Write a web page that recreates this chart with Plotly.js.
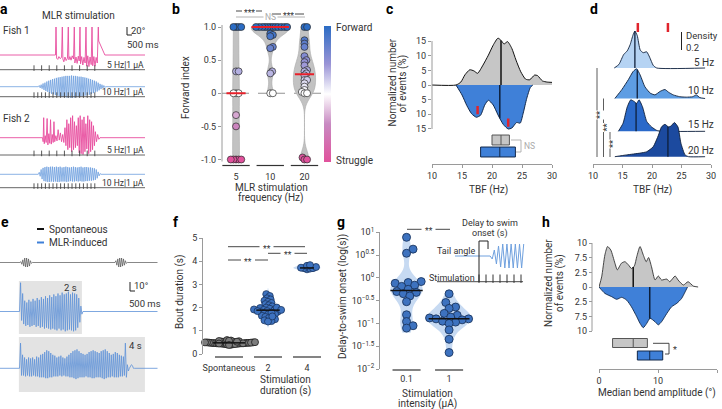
<!DOCTYPE html>
<html><head><meta charset="utf-8">
<script src="https://cdn.plot.ly/plotly-3.0.1.min.js"></script>
<style>html,body{margin:0;padding:0;background:#fff}#chart{width:722px;height:409px}</style>
</head><body><div id="chart"></div>
<script>
// ================= DATA =================
// Panel a: tail-angle traces (time in ms, angle in degrees)
const aPink1T = [0,1460,1474,1490,1520,1550,1580,1620,1640,1655,1680,1710,1740,1775,1797,1812,1840,1870,1900,1935,1955,1970,2000,2030,2060,2085,2105,2120,2150,2180,2210,2240,2263,2280,2310,2340,2370,2400,2421,2440,2470,2500,2530,2560,2587,2597,2760,3816];
const aPink1Y = [0,0,70,-8,-11,-4,-9,-6,70,-10,-17,-5,-14,-8,70,-12,-4,-13,-2,-10,70,-20,-5,-21,-3,-15,70,-22,-4,-25,-6,-20,70,-28,-2,-29,-5,-24,70,-27,-4,-28,-6,-20,70,35,0,0];
const aBlue1 = [3,-3,5,-5,8,-8,10,-11,13,-13,15,-16,17,-18,19,-19,20,-21,22,-22,23,-24,24,-25,25,-26,26,-26,27,-27,27,-27,27,-28,28,-27,27,-27,27,-26,26,-26,25,-25,25,-24,24,-23,23,-22,22,-21,20,-20,19,-18,17,-16,15,-14,13,-12,10,-9,7,-6,5,-4,3,-2];
const aPink2T = [0,1120,1135,1150,1165,1190,1215,1240,1260,1285,1310,1330,1350,1375,1400,1420,1440,1470,1500,1530,1560,1590,1620,1650,1680,1710,1735,1760,1785,1810,1835,1860,1885,1910,1935,1960,1985,2010,2035,2060,2085,2110,2135,2160,2185,2210,2235,2260,2285,2310,2335,2360,2385,2410,2435,2460,2485,2510,2540,2570,2600,2630,3816];
const aPink2Y = [0,0,-10,50,-15,5,-12,48,-18,10,-14,45,-16,8,-12,40,-10,5,-8,20,-6,12,-10,8,-12,25,-20,45,-30,35,-25,50,-35,55,-30,40,-25,30,-20,50,-38,55,-40,45,-42,52,-35,35,-28,55,-40,45,-35,40,-30,30,-20,15,-10,8,-4,0,0];
const aBlue2 = [5,-5,12,-12,16,-17,18,-18,19,-19,18,-19,19,-18,19,-19,18,-18,19,-19,18,-19,19,-18,17,-18,18,-18,19,-19,18,-18,17,-17,18,-18,19,-18,18,-17,17,-18,18,-17,19,-18,17,-18,18,-17,18,-17,17,-16,17,-16,16,-15,15,-14,12,-10,6,-4,2];
const aBlueStartMs = 1008, aBlueDtMs = 25, aEndMs = 3816;
const aStimStartMs = 895;
const aStimFreqHz = [5, 10, 5, 10];
const aStimPulses = [9, 17, 9, 17];
const aStimLabels = ['5 Hz|1 µA', '10 Hz|1 µA', '5 Hz|1 µA', '10 Hz|1 µA'];

// Panel b: forward index per stimulation frequency
const bCats = ['5', '10', '20'];
const b5 = [1,1,1,1,0.33,0.33,0,0,0,-0.33,-0.5,-1,-1,-1,-1,-1];
const b10 = [1,1,1,1,1,1,1,1,1,1,1,1,0.9,0.88,0.86,0.7,0.68,0.33,0.3,0,0];
const b20 = [1,1,0.8,0.75,0.7,0.56,0.5,0.47,0.42,0.35,0.33,0.3,0.27,0.2,0.2,0.15,0.1,0.05,0.02,0,0,-0.97,-1,-1];

// Panel c: TBF distributions (Hz, % events)
const cGrayX = [10,14,14.8,15.5,16.3,17.0,17.6,18.5,19.4,20.2,21.0,21.6,22.0,22.6,23.3,24.0,24.8,25.6,26.3,27.1,27.6,28.4,29.2,30];
const cGrayY = [0,0,1,3.5,5.2,4.8,4.0,6.8,10.2,13.6,16.0,15.0,14.0,14.8,12.5,8.5,4.5,2.0,1.8,3.4,3.2,1.4,1.0,0.9];
const cBlueX = [14,15,15.8,16.6,17.4,18.1,18.8,19.4,20.2,21.0,21.9,22.7,23.3,24.1,24.7,25.2,25.8,26.4,26.8];
const cBlueY = [0,-3.4,-7,-9.8,-11,-10.3,-6.8,-5.2,-6.8,-10.2,-13.5,-15,-14.7,-12.8,-13,-9.6,-4.5,-0.8,0];
const cQ1 = [20.0, 18.1], cMed = [21.5, 21.3], cQ3 = [22.9, 23.9];

// Panel d: TBF density per frequency
const dLabels = ['5 Hz', '10 Hz', '15 Hz', '20 Hz'];
const d5x = [13.6,14.4,15.2,15.8,16.3,16.8,17.1,17.5,18.0,18.5,19.1,19.6,20.2,20.8,29];
const d5y = [0,0.04,0.15,0.19,0.26,0.37,0.41,0.36,0.2,0.17,0.18,0.12,0.03,0,0];
const d10x = [13.7,14.9,16.0,16.8,17.4,18.0,18.8,19.7,20.5,21.4,22.2,22.8,23.6,24.7,25.8,26.9,27.5,28.1,29];
const d10y = [0,0.1,0.21,0.3,0.33,0.26,0.13,0.06,0.04,0.08,0.1,0.07,0.04,0.02,0.015,0.02,0.04,0.01,0];
const d15x = [14.3,15.1,15.8,16.4,17.0,17.4,17.8,18.4,19.1,19.9,20.8,21.6,29];
const d15y = [0,0.09,0.27,0.35,0.33,0.31,0.35,0.27,0.11,0.05,0.01,0,0];
const d20x = [13.7,15.7,18.0,19.1,20.2,21.1,21.6,22.2,22.8,23.2,23.8,24.4,24.9,25.6,26.2,29];
const d20y = [0,0.02,0.04,0.055,0.11,0.24,0.33,0.36,0.33,0.34,0.38,0.33,0.15,0.02,0,0];
const dMedians = [17.1, 17.5, 17.3, 22.7];
const dPeaks = [17.6, 22.7];

// Panel e: spontaneous vs MLR-induced bouts (s, degrees)
const eSpontStartS = [0.635, 3.65];
const eSpontBurst1 = [1,-2,3,-4,5,-5,5,-5,4,-4,2,-1];
const eSpontBurst2 = [2,-3,4,-5,5,-5,5,-4,4,-3,2,-1];
const eSpontDtS = 0.03;
const eStimStartS = 0.6, eStimDurS = [2, 4], eOnsetS = 0.62, eEndS = 5.0;
const eInd2 = [32,-10,20,-14,12,-16,10,-15,13,-17,11,-16,14,-15,12,-17,15,-16,13,-18,16,-17,14,-19,17,-18,15,-19,18,-20,16,-19,19,-20,17,-21,20,-19,18,-21,21,-20,19,-22,20,-21,22,-20,19,-21,21,-22,20,-21,19,-18,15,-12,6,-3];
const eInd4 = [28,-8,15,-8,12,-9,10,-8,12,-9,11,-9,12,-8,10,-9,13,-9,12,-10,15,-10,16,-10,18,-11,20,-11,19,-10,17,-10,15,-9,14,-9,12,-9,13,-8,14,-9,12,-8,11,-9,13,-9,15,-10,17,-10,19,-11,20,-12,21,-11,19,-10,17,-10,16,-10,15,-9,16,-10,18,-10,19,-11,20,-11,19,-10,18,-10,17,-10,19,-11,20,-12,21,-11,19,-10,17,-10,15,-9,16,-10,18,-10,17,-10,15,-9,14,-9,13,-8,28,-10,4,-3];
const eInd4Tail = [0,3,4,3,0];
const eDt2 = 0.033, eDt4 = 0.032;

// Panel f: bout duration (s)
const fCats = ['Spontaneous', '2', '4'];
const fSpont = [0.40,0.42,0.43,0.44,0.45,0.45,0.46,0.46,0.47,0.47,0.47,0.48,0.48,0.48,0.49,0.49,0.50,0.50,0.50,0.51,0.52,0.52,0.53,0.54,0.55,0.56,0.58,0.60,0.44,0.46,0.48,0.50,0.41,0.43,0.53,0.57,0.39,0.45,0.49,0.51];
const f2 = [2.58,2.5,2.4,2.35,2.3,2.25,2.2,2.15,2.1,2.05,2.0,1.98,1.95,1.92,1.9,1.88,1.85,1.82,1.8,1.75,1.72,1.7,1.65,1.6,1.55,1.5,1.45,1.42,1.4,2.0,1.9,1.85,1.78,1.62];
const f4 = [3.65,3.68,3.7,3.7,3.72,3.75,3.8,3.83];

// Panel g: delay to swim onset (s)
const gCats = ['0.1', '1'];
const g01 = [7.76,4.27,3.47,0.83,0.79,0.76,0.69,0.65,0.56,0.50,0.48,0.45,0.40,0.30,0.155,0.11,0.089,0.079];
const g1 = [0.447,0.288,0.229,0.214,0.166,0.151,0.138,0.132,0.126,0.126,0.120,0.112,0.107,0.1,0.072,0.045,0.023];
const gInsetTail = [0,-3,6,-8,10,-11,12,-12,12,-12,12,-12,12,-12,12,-12,12];
const gInsetStimMs = [600,700,800,900,1000,1100,1200];
const gInsetOnsetMs = 729;

// Panel h: median bend amplitude distributions (deg, % events)
const hGrayX = [0,0.45,1.0,1.45,2.0,2.7,3.1,3.8,4.4,5.0,5.5,6.0,6.4,6.95,7.5,8.0,8.4,8.9,9.5,10.05,10.6,11.5,12.0,12.9,13.4,14.3,15.1,16.0,16.8];
const hGrayY = [0,2.3,7.3,9.2,8.4,5.4,3.9,5.4,5.75,5.0,4.2,4.8,6.9,9.2,7.3,5.75,6.7,4.6,1.6,2.5,1.6,1.8,1.2,2.5,1.6,0.45,1.2,0.2,0];
const hBlueX = [0,1.0,2.15,3.0,3.85,4.7,5.5,6.4,6.95,7.5,8.1,8.65,9.5,10.05,10.6,11.5,12.3,13.2,14.0,14.6,15];
const hBlueY = [0,-1.45,-2.2,-2.8,-2.35,-3.0,-4.5,-6.75,-8.25,-9.25,-8.25,-7.1,-7.9,-8.6,-7.9,-6.0,-4.5,-3.7,-2.6,-1.1,0];
const hQ1 = [2.3, 6.5], hMed = [5.8, 8.6], hQ3 = [8.2, 10.8];

// ================= HELPERS =================
const W = 722, H = 409;
const fx = p => p / W, fy = p => 1 - p / H;
const xdom = (a, b) => [fx(a), fx(b)];
const ydom = (top, bot) => [fy(bot), fy(top)];
const FONT = 'Roboto, "Liberation Sans", sans-serif';
const TXT = '#333', AXC = '#9a9a9a';
const traces = [], shapes = [], anns = [];

function T(text, x, y, size, xa, opts) {
  opts = opts || {};
  anns.push({text, x: fx(x), y: fy(y), xref: 'paper', yref: 'paper', showarrow: false,
    xanchor: xa || 'center', yanchor: 'middle', textangle: opts.angle || 0,
    bgcolor: opts.bg || 'rgba(0,0,0,0)', borderpad: 0,
    font: {family: FONT, size: size || 9.5, color: opts.color || TXT, weight: opts.weight || 'normal'}});
}
function seg(x0, y0, x1, y1, color, w, dash) {
  shapes.push({type: 'line', xref: 'paper', yref: 'paper', x0: fx(x0), y0: fy(y0), x1: fx(x1), y1: fy(y1),
    line: {color: color || '#333', width: w || 1, dash: dash || 'solid'}});
}
function sig(x0, x1, y, text, gap, color, dy) {
  const c = (x0 + x1) / 2;
  seg(x0, y, c - gap, y, color || '#333', 0.9);
  seg(c + gap, y, x1, y, color || '#333', 0.9);
  T(text, c, y + (dy === undefined ? 2 : dy), 8.5, 'center', {color: color || TXT});
}
function line(xs, ys, xa, ya, color, w, extra) {
  traces.push(Object.assign({type: 'scatter', mode: 'lines', x: xs, y: ys, xaxis: xa, yaxis: ya,
    line: {color: color, width: w}, hoverinfo: 'skip', showlegend: false}, extra || {}));
}
function median(a) { const s = a.slice().sort((p, q) => p - q), n = s.length; return n % 2 ? s[(n - 1) / 2] : (s[n / 2 - 1] + s[n / 2]) / 2; }
function interp(xs, ys, x) {
  for (let i = 1; i < xs.length; i++) if (x <= xs[i]) { const t = (x - xs[i - 1]) / (xs[i] - xs[i - 1]); return ys[i - 1] + t * (ys[i] - ys[i - 1]); }
  return ys[ys.length - 1];
}
function swarm(vals, pxX, pxY, minD) {
  const idx = vals.map((v, i) => i).sort((a, b) => vals[a] - vals[b]);
  const placed = [], out = new Array(vals.length).fill(0), step = minD / 4;
  idx.forEach(i => {
    const yp = vals[i] * pxY;
    for (let n = 0; n < 400; n++) {
      const dx = Math.ceil(n / 2) * (n % 2 ? 1 : -1) * step;
      if (placed.every(p => (p[0] - dx) ** 2 + (p[1] - yp) ** 2 >= minD * minD)) { placed.push([dx, yp]); out[i] = dx / pxX; break; }
    }
  });
  return out;
}
function oscSeries(t0, dt, vals, tEnd, off) {
  const x = [0, t0], y = [off, off];
  vals.forEach((v, i) => { x.push(t0 + (i + 1) * dt); y.push(off + v); });
  x.push(t0 + (vals.length + 1) * dt, tEnd); y.push(off, off);
  return {x, y};
}
const HID = {visible: false, fixedrange: true};
const VIS = {showgrid: false, zeroline: false, showline: false, linecolor: AXC, linewidth: 1, ticks: 'outside',
  ticklen: 3, tickwidth: 1, tickcolor: AXC, tickfont: {family: FONT, size: 9, color: TXT}, fixedrange: true};

// ================= PANEL a =================
const aPxMs = 0.038, aPxDeg = 0.4;
const aRowsPx = [55, 69.7, 86.7, 96.7, 137.7, 155, 174.3, 187.7];
const aOff = aRowsPx.map(p => (195 - p) / aPxDeg);
line(aPink1T, aPink1Y.map(v => v + aOff[0]), 'x', 'y', '#e84d9e', 0.9);
let s = oscSeries(aBlueStartMs, aBlueDtMs, aBlue1, aEndMs, aOff[2]);
line(s.x, s.y, 'x', 'y', '#6fa0de', 0.8);
line(aPink2T, aPink2Y.map(v => v + aOff[4]), 'x', 'y', '#e84d9e', 0.9);
s = oscSeries(aBlueStartMs, aBlueDtMs, aBlue2, aEndMs, aOff[6]);
line(s.x, s.y, 'x', 'y', '#6fa0de', 0.8);
[1, 3, 5, 7].forEach((r, k) => {
  line([0, aEndMs], [aOff[r], aOff[r]], 'x', 'y', '#555', 0.9);
  const tx = [];
  for (let i = 0; i < aStimPulses[k]; i++) tx.push(aStimStartMs + i * 1000 / aStimFreqHz[k]);
  traces.push({type: 'scatter', mode: 'markers', x: tx, y: tx.map(() => aOff[r] + 4), xaxis: 'x', yaxis: 'y',
    marker: {symbol: 'line-ns', size: 4, line: {width: 0.9, color: '#444'}}, hoverinfo: 'skip', showlegend: false});
  T(aStimLabels[k], 145, aRowsPx[r] - 5, 8.5, 'right');
});
T('MLR stimulation', 78, 15, 10);
T('Fish 1', 2, 31, 10, 'left');
T('Fish 2', 2, 118, 10, 'left');
seg(127, 27, 127, 35, '#222', 1); seg(127, 35, 132, 35, '#222', 1);
T('20°', 130, 30, 9.5, 'left');
T('500 ms', 126, 44, 9.5, 'left');

// ================= PANEL b =================
const bVals = [b5, b10, b20];
const bBw = [0.4, 0.1, 0.12], bVW = [0.2, 1.1, 0.65], bMedHW = [0.28, 0.55, 0.28];
bVals.forEach((v, g) => traces.push({type: 'violin', x0: g, y: v, xaxis: 'x2', yaxis: 'y2', points: false,
  box: {visible: false}, meanline: {visible: false}, spanmode: 'hard', bandwidth: bBw[g], width: bVW[g],
  scalemode: 'width', fillcolor: '#c2c2c2', line: {color: '#aaa', width: 0.6}, hoverinfo: 'skip', showlegend: false}));
const bx = [], by = [];
bVals.forEach((v, g) => { const o = swarm(v, 34.25, 66.25, 2.6); v.forEach((val, i) => { bx.push(g + o[i]); by.push(val); }); });
const bScale = [[0, '#e1519c'], [0.28, '#c88ac2'], [0.5, '#ffffff'], [0.72, '#9a94d6'], [1, '#2b6cc4']];
traces.push({type: 'scatter', mode: 'markers', x: bx, y: by, xaxis: 'x2', yaxis: 'y2', cliponaxis: false,
  marker: {size: 7, color: by, colorscale: bScale, cmin: -1, cmax: 1, line: {color: '#2b2b2b', width: 0.7},
    showscale: true, colorbar: {x: fx(323.5), xanchor: 'left', y: fy(26), yanchor: 'top', len: 136, lenmode: 'pixels',
      thickness: 7, thicknessmode: 'pixels', outlinewidth: 0, showticklabels: false, ticks: '', xpad: 0, ypad: 0}},
  hoverinfo: 'skip', showlegend: false});
const bmx = [], bmy = [];
bVals.forEach((v, g) => { const m = median(v); bmx.push(g - bMedHW[g], g + bMedHW[g], null); bmy.push(m, m, null); });
line(bmx, bmy, 'x2', 'y2', '#e8202a', 2, {cliponaxis: false});
shapes.push({type: 'line', xref: 'paper', yref: 'y2', x0: fx(222), x1: fx(322), y0: 0, y1: 0, layer: 'below', line: {color: '#777', width: 0.8, dash: 'dash'}});
shapes.push({type: 'line', xref: 'paper', yref: 'y2', x0: fx(222), x1: fx(222), y0: -1.03, y1: 1.03, line: {color: AXC, width: 1}});
bCats.forEach((c, g) => shapes.push({type: 'line', xref: 'x2', yref: 'paper', x0: g - 0.4, x1: g + 0.4, y0: fy(165.5), y1: fy(165.5), line: {color: '#333', width: 1.2}}));
sig(236, 262, 11, '***', 7);
sig(236, 305, 17, 'NS', 7, '#aaa', 0);
sig(272, 304, 14, '***', 7);
T('Forward index', 185, 88, 10, 'center', {angle: -90});
T('MLR stimulation', 271, 187, 10);
T('frequency (Hz)', 271, 198, 10);
T('Forward', 335, 28, 10, 'left');
T('Struggle', 335, 160, 10, 'left');

// ================= PANEL c =================
line(cGrayX, cGrayY, 'x3', 'y3', '#111', 1, {fill: 'tozeroy', fillcolor: '#c6c6c6', line: {color: '#111', width: 1, shape: 'spline', smoothing: 0.6}});
line(cBlueX, cBlueY, 'x3', 'y3', '#12284a', 1, {fill: 'tozeroy', fillcolor: '#3f80d8', line: {color: '#12284a', width: 1, shape: 'spline', smoothing: 0.6}});
line([cMed[0], cMed[0]], [0, interp(cGrayX, cGrayY, cMed[0])], 'x3', 'y3', '#111', 1.5);
line([cMed[1], cMed[1]], [0, interp(cBlueX, cBlueY, cMed[1])], 'x3', 'y3', '#0d1f3a', 1.5);
dPeaks.forEach(p => { const v = interp(cBlueX, cBlueY, p); line([p, p], [v + 0.8, v + 3.6], 'x3', 'y3', '#e0242c', 2.5); });
const cBoxFill = ['#c6c6c6', '#3f80d8'], cBoxLine = ['#555', '#12284a'], cBoxPos = [1, 0];
[0, 1].forEach(k => traces.push({type: 'box', orientation: 'h', y: [cBoxPos[k]], q1: [cQ1[k]], median: [cMed[k]], q3: [cQ3[k]],
  lowerfence: [cQ1[k]], upperfence: [cQ3[k]], xaxis: 'x3', yaxis: 'y4', width: 0.83, whiskerwidth: 0, boxpoints: false,
  fillcolor: cBoxFill[k], line: {color: cBoxLine[k], width: 1}, hoverinfo: 'skip', showlegend: false}));
shapes.push({type: 'line', xref: 'paper', yref: 'y3', x0: fx(432), x1: fx(432), y0: -15, y1: 15, line: {color: AXC, width: 1}});
seg(511, 140, 521, 140, '#aaa', 0.9); seg(521, 140, 521, 152, '#aaa', 0.9); seg(516, 152, 521, 152, '#aaa', 0.9);
T('NS', 523, 146, 8.5, 'left', {color: '#aaa'});
T('Normalized number', 391.5, 83, 10, 'center', {angle: -90});
T('of events (%)', 402.5, 83, 10, 'center', {angle: -90});
T('TBF (Hz)', 488, 190, 10);

// ================= PANEL d =================
const dX = [d5x, d10x, d15x, d20x], dY = [d5y, d10y, d15y, d20y];
const dRowPx = [68, 98.5, 131.3, 156.7], dPxUnit = 90;
const dOff = dRowPx.map(p => (164 - p) / dPxUnit);
const dFill = ['#b5d3f3', '#5e9de3', '#2a69c9', '#1c4a9f'];
dX.forEach((xs, i) => {
  line(xs, dY[i].map(v => v + dOff[i]), 'x5', 'y5', '#0f1f3a', 0.9, {fill: 'toself', fillcolor: dFill[i], line: {color: '#0f1f3a', width: 0.9, shape: 'spline', smoothing: 0.5}});
  line([dMedians[i], dMedians[i]], [dOff[i], dOff[i] + interp(xs, dY[i], dMedians[i])], 'x5', 'y5', '#0f1f3a', 1.3);
});
const dTop = (164 - 32) / dPxUnit;
dPeaks.forEach(p => line([p, p], [dTop, dTop + 0.1], 'x5', 'y5', '#e0242c', 2.5));
const dLabPx = [62, 91, 124, 150];
dLabels.forEach((l, i) => T(l, 715, dLabPx[i], 10, 'right'));
const dBar0 = (164 - 50) / dPxUnit;
shapes.push({type: 'line', xref: 'paper', yref: 'y5', x0: fx(681.5), x1: fx(681.5), y0: dBar0, y1: dBar0 + 0.2, line: {color: '#222', width: 1}});
T('Density', 685, 35, 9.5, 'left');
T('0.2', 685, 47, 9.5, 'left');
seg(597, 68, 597, 157, '#333', 0.8); seg(603.5, 98.5, 603.5, 157, '#333', 0.8); seg(610, 131.3, 610, 157, '#333', 0.8);
T('**', 599, 115, 9.5, 'center', {angle: -90, bg: '#fff'});
T('**', 605.5, 128, 9.5, 'center', {angle: -90, bg: '#fff'});
T('**', 612, 144, 9.5, 'center', {angle: -90, bg: '#fff'});
T('TBF (Hz)', 652, 190, 10);

// ================= PANEL e =================
const ePxDeg = 0.9;
const eRowPx = [262.5, 311.5, 368.3];
const eOff = eRowPx.map(p => (395 - p) / ePxDeg);
eStimDurS.forEach((d, i) => shapes.push({type: 'rect', xref: 'x6', yref: 'paper', x0: eStimStartS, x1: eStimStartS + d,
  y0: fy(i ? 392 : 334), y1: fy(i ? 337 : 281), fillcolor: '#e3e3e3', line: {width: 0}, layer: 'below'}));
{
  const x = [0], y = [eOff[0]];
  [eSpontBurst1, eSpontBurst2].forEach((b, k) => {
    const t0 = eSpontStartS[k]; x.push(t0); y.push(eOff[0]);
    b.forEach((v, i) => { x.push(t0 + (i + 1) * eSpontDtS); y.push(eOff[0] + v); });
    x.push(t0 + (b.length + 1) * eSpontDtS); y.push(eOff[0]);
  });
  x.push(eEndS); y.push(eOff[0]);
  line(x, y, 'x6', 'y6', '#555', 0.7);
}
s = oscSeries(eOnsetS, eDt2, eInd2, eEndS, eOff[1]);
line(s.x, s.y, 'x6', 'y6', '#5e92d8', 0.8);
s = oscSeries(eOnsetS, eDt4, eInd4.concat(eInd4Tail), eEndS, eOff[2]);
line(s.x, s.y, 'x6', 'y6', '#5e92d8', 0.8);
seg(37, 229, 44, 229, '#111', 2); seg(37, 242.5, 44, 242.5, '#3f80d8', 2);
T('Spontaneous', 48, 229, 10, 'left');
T('MLR-induced', 48, 242.5, 10, 'left');
T('2 s', 78, 287, 9.5, 'right');
T('4 s', 143, 345, 9.5, 'right');
seg(130, 282, 130, 291, '#222', 1); seg(130, 291, 135, 291, '#222', 1);
T('10°', 133, 285, 9.5, 'left');
T('500 ms', 128, 303, 9.5, 'left');

// ================= PANEL f =================
const fVals = [fSpont, f2, f4];
const fVW = [0, 0.62, 0.7], fBw = [0, 0.13, 0.06], fMinD = [2.0, 3.5, 3.0], fMedHW = [0.41, 0.3, 0.18];
[1, 2].forEach(g => traces.push({type: 'violin', x0: g, y: fVals[g], xaxis: 'x7', yaxis: 'y7', points: false,
  box: {visible: false}, meanline: {visible: false}, spanmode: 'soft', bandwidth: fBw[g], width: fVW[g],
  scalemode: 'width', fillcolor: '#c7daf2', line: {color: '#c7daf2', width: 0}, hoverinfo: 'skip', showlegend: false}));
fVals.forEach((v, g) => {
  const o = swarm(v, 39, 23.2, fMinD[g]);
  traces.push({type: 'scatter', mode: 'markers', x: v.map((_, i) => g + o[i]), y: v, xaxis: 'x7', yaxis: 'y7', cliponaxis: false,
    marker: {size: 7, color: g ? '#3d72bf' : '#7d7d7d', line: {color: g ? '#1b3560' : '#1a1a1a', width: 0.8}},
    hoverinfo: 'skip', showlegend: false});
});
{
  const mx = [], my = [];
  fVals.forEach((v, g) => { const m = median(v); mx.push(g - fMedHW[g], g + fMedHW[g], null); my.push(m, m, null); });
  line(mx, my, 'x7', 'y7', '#111', 1.5, {cliponaxis: false});
}
fCats.forEach((c, g) => shapes.push({type: 'line', xref: 'x7', yref: 'paper', x0: g - 0.36, x1: g + 0.36, y0: fy(357), y1: fy(357), line: {color: '#333', width: 1.2}}));
sig(228, 305, 246.7, '**', 7);
sig(268, 307, 253.3, '**', 7);
sig(228, 268, 260, '**', 7);
T('Bout duration (s)', 180, 292, 10, 'center', {angle: -90});
T('Stimulation', 285, 379, 10);
T('duration (s)', 285, 390.5, 10);

// ================= PANEL g =================
const gVals = [g01.map(Math.log10), g1.map(Math.log10)];
const gVW = [0.75, 1.05], gBw = [0.2, 0.17], gMedHW = [0.38, 0.48];
gVals.forEach((v, g) => traces.push({type: 'violin', x0: g, y: v, xaxis: 'x8', yaxis: 'y8', points: false,
  box: {visible: false}, meanline: {visible: false}, spanmode: 'manual', span: [Math.min(...v) - 0.1, Math.max(...v) + 0.08],
  bandwidth: gBw[g], width: gVW[g], scalemode: 'width', fillcolor: '#c7daf2', line: {color: '#c7daf2', width: 0}, hoverinfo: 'skip', showlegend: false}));
{
  const gx = [], gy = [];
  gVals.forEach((v, g) => { const o = swarm(v, 42.5, 45.6, 6.5); v.forEach((val, i) => { gx.push(g + o[i]); gy.push(val); }); });
  traces.push({type: 'scatter', mode: 'markers', x: gx, y: gy, xaxis: 'x8', yaxis: 'y8', cliponaxis: false,
    marker: {size: 8, color: '#3d72bf', line: {color: '#1b3560', width: 0.9}}, hoverinfo: 'skip', showlegend: false});
  const mx = [], my = [];
  gVals.forEach((v, g) => { const m = median(v); mx.push(g - gMedHW[g], g + gMedHW[g], null); my.push(m, m, null); });
  line(mx, my, 'x8', 'y8', '#111', 1.5);
}
gCats.forEach((c, g) => shapes.push({type: 'line', xref: 'x8', yref: 'paper', x0: g - 0.33, x1: g + 0.33, y0: fy(370), y1: fy(370), line: {color: '#333', width: 1.2}}));
sig(407, 450, 229.3, '**', 7);
T('Delay-to-swim onset (log(s))', 343, 297, 10, 'center', {angle: -90});
T('Stimulation', 427, 393, 10);
T('intensity (µA)', 427, 404, 10);
// inset
{
  const tx = [257, gInsetOnsetMs], ty = [29, 29];
  gInsetTail.forEach((v, i) => { tx.push(gInsetOnsetMs + (i + 1) * 30); ty.push(29 + v); });
  line(tx, ty, 'x9', 'y9', '#6fa0de', 1);
  line([0, 1229], [3.3, 3.3], 'x9', 'y9', '#333', 0.9);
  traces.push({type: 'scatter', mode: 'markers', x: gInsetStimMs, y: gInsetStimMs.map(() => 6.3), xaxis: 'x9', yaxis: 'y9',
    marker: {symbol: 'line-ns', size: 6, line: {width: 1, color: '#333'}}, hoverinfo: 'skip', showlegend: false});
  line([gInsetStimMs[0], gInsetStimMs[0], gInsetOnsetMs, gInsetOnsetMs], [3.3, 44, 44, 36], 'x9', 'y9', '#222', 1);
}
T('Delay to swim', 490, 223, 9);
T('onset (s)', 490, 233, 9);
T('Tail angle', 476, 251, 9, 'right');
T('Stimulation', 476, 278, 9, 'right');

// ================= PANEL h =================
line(hGrayX, hGrayY, 'x10', 'y10', '#222', 1, {fill: 'tozeroy', fillcolor: '#c6c6c6', line: {color: '#333', width: 0.9, shape: 'spline', smoothing: 0.6}});
line(hBlueX, hBlueY, 'x10', 'y10', '#12284a', 1, {fill: 'tozeroy', fillcolor: '#3f80d8', line: {color: '#12284a', width: 0.9, shape: 'spline', smoothing: 0.6}});
line([hMed[0], hMed[0]], [0, interp(hGrayX, hGrayY, hMed[0])], 'x10', 'y10', '#111', 1.5);
line([hMed[1], hMed[1]], [0, interp(hBlueX, hBlueY, hMed[1])], 'x10', 'y10', '#0d1f3a', 1.5);
[0, 1].forEach(k => traces.push({type: 'box', orientation: 'h', y: [cBoxPos[k]], q1: [hQ1[k]], median: [hMed[k]], q3: [hQ3[k]],
  lowerfence: [hQ1[k]], upperfence: [hQ3[k]], xaxis: 'x10', yaxis: 'y11', width: 0.72, whiskerwidth: 0, boxpoints: false,
  fillcolor: cBoxFill[k], line: {color: cBoxLine[k], width: 1}, hoverinfo: 'skip', showlegend: false}));
shapes.push({type: 'line', xref: 'paper', yref: 'y10', x0: fx(592), x1: fx(592), y0: -10, y1: 10, line: {color: AXC, width: 1}});
seg(653, 343.3, 669, 343.3, '#333', 0.9); seg(669, 343.3, 669, 354, '#333', 0.9); seg(665, 354, 669, 354, '#333', 0.9);
T('*', 672, 350, 9, 'left');
T('Normalized number', 548, 283, 10, 'center', {angle: -90});
T('of events (%)', 560, 283, 10, 'center', {angle: -90});
T('Median bend amplitude (°)', 657, 393, 10);

// panel letters
[['a', 4, 9], ['b', 176, 9], ['c', 389, 9], ['d', 594, 9], ['e', 5, 222], ['f', 176, 222], ['g', 341, 222], ['h', 546, 222]]
  .forEach(l => T('<b>' + l[0] + '</b>', l[1], l[2], 14, 'center', {color: '#000'}));

// ================= LAYOUT =================
const layout = {
  width: W, height: H, margin: {l: 0, r: 0, t: 0, b: 0}, paper_bgcolor: '#fff', plot_bgcolor: 'rgba(0,0,0,0)',
  showlegend: false, hovermode: false, violinmode: 'overlay', boxmode: 'overlay',
  font: {family: FONT, size: 9, color: TXT},
  xaxis: Object.assign({}, HID, {domain: xdom(0, 150), range: [0, 150 / aPxMs], anchor: 'y'}),
  yaxis: Object.assign({}, HID, {domain: ydom(20, 195), range: [0, 175 / aPxDeg], anchor: 'x'}),
  xaxis2: Object.assign({}, VIS, {domain: xdom(222, 325), range: [-0.41, 2.6], anchor: 'y2', tickvals: [0, 1, 2], ticktext: bCats, ticklen: 3, tickcolor: 'rgba(0,0,0,0)'}),
  yaxis2: Object.assign({}, VIS, {domain: ydom(21.7, 164.8), range: [-1.08, 1.08], anchor: 'x2', tickvals: [-1, -0.5, 0, 0.5, 1], ticktext: ['-1.0', '-0.5', '0', '0.5', '1.0']}),
  xaxis3: Object.assign({}, VIS, {domain: xdom(432, 552), range: [10, 30], anchor: 'free', position: fy(164), showline: true, tickvals: [10, 15, 20, 25, 30]}),
  yaxis3: Object.assign({}, VIS, {domain: ydom(35.2, 131.9), range: [-16, 17], anchor: 'x3', tickvals: [-15, -10, -5, 0, 5, 10, 15], ticktext: ['15', '10', '5', '0', '5', '10', '15']}),
  yaxis4: Object.assign({}, HID, {domain: ydom(133, 160), range: [-0.667, 1.583], anchor: 'x3'}),
  xaxis5: Object.assign({}, VIS, {domain: xdom(593, 711), range: [10, 30], anchor: 'free', position: fy(164), showline: true, tickvals: [10, 15, 20, 25, 30]}),
  yaxis5: Object.assign({}, HID, {domain: ydom(15, 164), range: [0, 149 / dPxUnit], anchor: 'x5'}),
  xaxis6: Object.assign({}, HID, {domain: xdom(0, 158), range: [0, 158 / 31.5], anchor: 'y6'}),
  yaxis6: Object.assign({}, HID, {domain: ydom(250, 395), range: [0, 145 / ePxDeg], anchor: 'x6'}),
  xaxis7: Object.assign({}, VIS, {domain: xdom(203, 330), range: [-0.667, 2.59], anchor: 'y7', tickvals: [0, 1, 2], ticktext: fCats, ticklen: 5, tickcolor: 'rgba(0,0,0,0)'}),
  yaxis7: Object.assign({}, VIS, {domain: ydom(238, 354), range: [0, 5], anchor: 'x7', showline: true, tickvals: [0, 1, 2, 3, 4, 5]}),
  xaxis8: Object.assign({}, VIS, {domain: xdom(380, 478), range: [-0.624, 1.68], anchor: 'y8', tickvals: [0, 1], ticktext: gCats, ticklen: 1, tickcolor: 'rgba(0,0,0,0)'}),
  yaxis8: Object.assign({}, VIS, {domain: ydom(232.3, 369), range: [-2, 1], anchor: 'x8', showline: true, tickvals: [-2, -1.5, -1, -0.5, 0, 0.5, 1],
    ticktext: ['10<sup>−2</sup>', '10<sup>−1.5</sup>', '10<sup>−1</sup>', '10<sup>−0.5</sup>', '10<sup>0</sup>', '10<sup>0.5</sup>', '10<sup>1</sup>']}),
  xaxis9: Object.assign({}, HID, {domain: xdom(437, 525), range: [0, 88 / 0.07], anchor: 'y9'}),
  yaxis9: Object.assign({}, HID, {domain: ydom(236, 285), range: [0, 49], anchor: 'x9'}),
  xaxis10: Object.assign({}, VIS, {domain: xdom(599, 717), range: [0, 20], anchor: 'free', position: fy(369), showline: true, tickvals: [0, 10, 20]}),
  yaxis10: Object.assign({}, VIS, {domain: ydom(240.8, 333.2), range: [-10.5, 10.5], anchor: 'free', position: fx(592),
    tickvals: [10, 6.67, 3.33, 0, -3.33, -6.67, -10], ticktext: ['10', '7.5', '2.5', '0', '2.5', '7.5', '10']}),
  yaxis11: Object.assign({}, HID, {domain: ydom(336, 362), range: [-0.52, 1.56], anchor: 'x10'}),
  shapes: shapes, annotations: anns
};
Plotly.newPlot('chart', traces, layout, {displayModeBar: false, staticPlot: true});
</script>
</body></html>
